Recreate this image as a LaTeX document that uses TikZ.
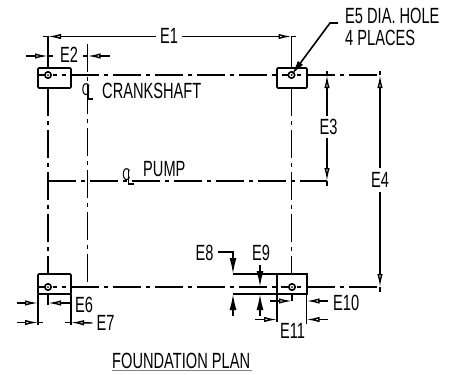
\documentclass[tikz,border=0pt]{standalone}
\usepackage{fontspec}
\setmainfont[FakeStretch=0.665]{Liberation Sans}
\usetikzlibrary{arrows.meta, calc}

\tikzset{
	plan/.style = {line width = 1.6pt, black},
	centerline/.style = {plan, dash pattern = on 28pt off 5pt on 4pt off 5pt},
	opentip/.style = {plan, line width = 1.4pt, -{Latex[open, fill = white, length = 13pt, width = 5.5pt]}},
	solidtip/.style = {plan, -{Latex[length = 16pt, width = 7pt]}},
	label/.style = {inner sep = 0pt, text = black, font = \fontsize{22}{22}\selectfont},
	foot/.style = {plan, rounded corners = 1pt}
}

\begin{document}
\begin{tikzpicture}[x = 1pt, y = -1pt]
	\useasboundingbox (0,0) rectangle (461,375);
	
	\coordinate (holeA) at (48,75);
	\coordinate (holeB) at (291.5,75);
	\coordinate (holeC) at (48,287);
	\coordinate (holeD) at (292,287);
	
	% feet and holes
	\draw [foot] (38,68) rectangle (71,88);
	\draw [foot] (277,68) rectangle (307,88);
	\draw [foot] (38,274) rectangle (71,294);
	\draw [plan] (277,274) rectangle (307,294);
	\foreach \hole in {holeA, holeB, holeC, holeD} {
		\draw [plan] (\hole) circle (3.2);
		\draw [plan] (\hole) ++(-10,0) -- ++(7,0);
		\draw [plan, dash pattern = on 4pt off 5pt] (\hole) ++(5,0) -- ++(17,0);
		\fill [black] (\hole) circle (1);
	}
	
	% center lines
	\draw [centerline] (71,75) -- (277,75);
	\draw [centerline] (307,75) -- (380,75);
	\draw [centerline] (71,287) -- (282,287);
	\draw [centerline] (307,287) -- (380,287);
	\draw [centerline] (48,181) -- (327,181);
	\draw [centerline] (48,88) -- (48,274);
	\draw [centerline] (87.5,44) -- (87.5,287);
	\draw [centerline] (291.5,88) -- (291.5,274);
	\draw [plan] (48,36) -- (48,68);
	\draw [plan] (291.5,36) -- (291.5,68);
	
	% E1
	\node [label] (E1) at (169,36) {E1};
	\draw [plan] (43,36.5) -- (48,36.5);
	\draw [plan] (291.5,36.5) -- (296,36.5);
	\draw [opentip] (E1.west) ++(-4,0.5) -- (48,36.5);
	\draw [opentip] (E1.east) ++(4,0.5) -- (291.5,36.5);
	
	% E2
	\node [label] (E2) at (69,55) {E2};
	\draw [plan] (48,56) -- (53,56);
	\draw [plan] (83,56) -- (87.5,56);
	\draw [opentip] (26,56) -- (48,56);
	\draw [opentip] (110,56) -- (87.5,56);
	
	% E3, E4
	\node [label] (E3) at (328.5,127) {E3};
	\node [label] (E4) at (380,180) {E4};
	\draw [plan] (327,71) -- (327,75);
	\draw [plan] (327,181) -- (327,186);
	\draw [plan] (380,71) -- (380,75);
	\draw [plan] (380,287) -- (380,292);
	\draw [opentip] (E3.north -| 327,0) ++(0,-3) -- (327,75);
	\draw [opentip] (E3.south -| 327,0) ++(0,3) -- (327,181);
	\draw [opentip] (E4.north) ++(0,-4) -- (380,75);
	\draw [opentip] (E4.south) ++(0,4) -- (380,287);
	
	% E5
	\node [label, anchor = west] (E5) at (345,16) {E5 DIA. HOLE};
	\node [label, anchor = west] (places) at (345,37.5) {4 PLACES};
	\draw [plan, -{Latex[length = 15pt, width = 6.5pt]}] (338,23) -- (330,23) -- (holeB);
	
	% crankshaft and pump marks
	\node [label, anchor = west] (crankshaft) at (102,91) {CRANKSHAFT};
	\node [label, anchor = west] (pump) at (143,169) {PUMP};
	\foreach \mark/\pos in {markA/{(86,90)}, markB/{(126.5,175)}} {
		\node [inner sep = 0pt, font = \fontsize{17}{17}\selectfont] (\mark) at \pos {C};
		\draw [plan, line width = 1.2pt] (\mark.center) ++(2,-5) -- ++(0,14) -- ++(5,0);
	}
	
	% E6, E7
	\node [label] (E6) at (84,305) {E6};
	\node [label] (E7) at (105.5,323) {E7};
	\draw [plan] (38,294) -- (38,325);
	\draw [plan] (71,294) -- (71,325);
	\draw [plan] (48,294) -- (48,305);
	\draw [opentip] (17,303) -- (38,303);
	\draw [opentip] (71,303) -- (48,303);
	\draw [opentip] (17,322.5) -- (38,322.5);
	\draw [plan] (38,322.5) -- (43,322.5);
	\draw [opentip] (E7.west) ++(-4,0) -- (71,322.5);
	\draw [plan] (71,322.5) -- (65,322.5);
	
	% E8, E9
	\node [label] (E8) at (204.5,253) {E8};
	\node [label] (E9) at (261,253) {E9};
	\draw [plan] (233,274) -- (277,274);
	\draw [plan] (233,294) -- (277,294);
	\draw [solidtip] (E8.east) ++(4,-1) -- (233,252) -- (233,274);
	\draw [solidtip] (233,316) -- (233,294);
	\draw [solidtip] (260,265) -- (260,287);
	\draw [solidtip] (260,316) -- (260,294);
	
	% E10, E11
	\node [label, anchor = west] (E10) at (333,303) {E10};
	\node [label] (E11) at (292.5,331) {E11};
	\draw [plan] (277,294) -- (277,322);
	\draw [plan] (306.5,294) -- (306.5,324);
	\draw [plan] (292,294) -- (292,301);
	\draw [opentip] (270,301) -- (292,301);
	\draw [opentip] (328,301) -- (306.5,301);
	\draw [opentip] (255,319.5) -- (277,319.5);
	\draw [opentip] (328,319.5) -- (306.5,319.5);
	
	\node [label, anchor = west] (title) at (112,361) {FOUNDATION PLAN};
	\draw [plan, line width = 1.5pt, black!50] (112,370.5) -- (252,370.5);
\end{tikzpicture}
\end{document}
